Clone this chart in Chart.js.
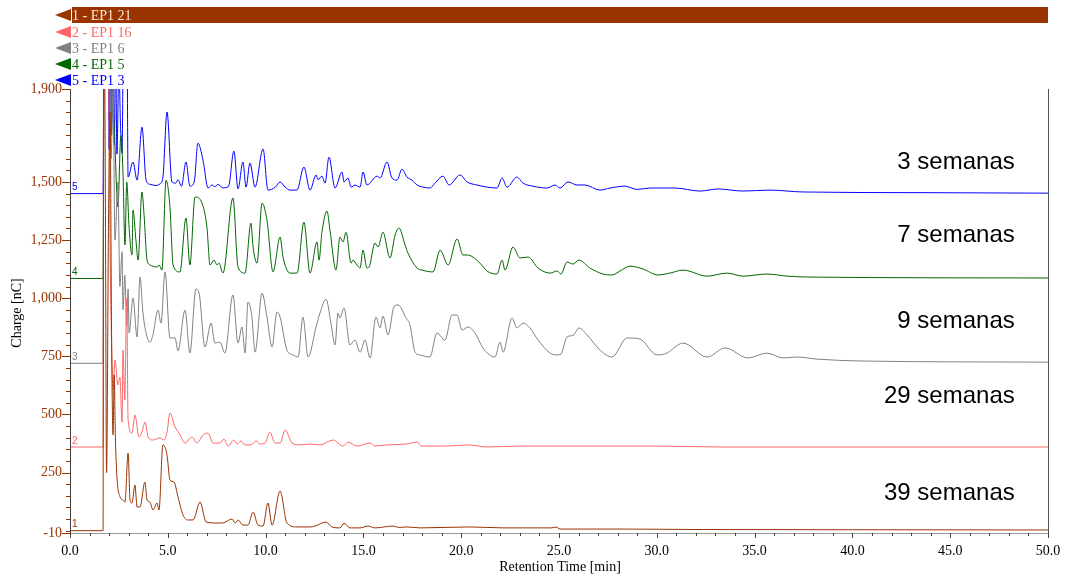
<!DOCTYPE html>
<html>
<head>
<meta charset="utf-8">
<script src="https://cdn.jsdelivr.net/npm/chart.js@4.4.0/dist/chart.umd.min.js"></script>
<style>
  html, body { margin: 0; padding: 0; background: #fff; }
  #wrap { width: 1067px; height: 577px; }
</style>
</head>
<body>
<div id="wrap"><canvas id="chrom"></canvas></div>
<script>
// series names, colours and the age labels written on the right
const seriesNames = ['1 - EP1 21', '2 - EP1 16', '3 - EP1 6', '4 - EP1 5', '5 - EP1 3'];
const seriesColors = ['#993300', '#ff6666', '#808080', '#006600', '#0000ff'];
const ageLabels = ['39 semanas', '29 semanas', '9 semanas', '7 semanas', '3 semanas'];
const ageLabelY = [162, 579, 902, 1272, 1585]; // nC, where each label sits
const ageLabelX = 48.3; // min, right edge of the labels

// axis ticks
const xTickLabels = [0, 5, 10, 15, 20, 25, 30, 35, 40, 45, 50];
const yTickLabels = [-10, 250, 500, 750, 1000, 1250, 1500, 1900];

// traces: [retention time (min), charge (nC)]
const ep1_21 = [[0,0],[1.69,0],[1.72,2400],[1.80,1607],[1.87,250],[1.97,1345],[2.05,1800],[2.12,900],[2.20,412],[2.26,670],[2.32,403],[2.40,231],[2.56,145],[2.71,132],[2.81,123],[2.97,334],[3.07,132],[3.17,119],[3.32,196],[3.43,102],[3.58,102],[3.83,209],[3.94,132],[4.09,123],[4.24,89],[4.45,119],[4.55,89],[4.75,369],[4.96,325],[5.11,218],[5.32,209],[5.52,145],[5.78,67],[6.03,46],[6.29,46],[6.65,123],[6.96,37],[7.52,33],[7.80,33],[8.28,50],[8.45,33],[8.59,46],[8.84,24],[9.10,24],[9.36,80],[9.61,24],[9.87,20],[10.12,119],[10.33,24],[10.74,171],[11.09,33],[11.61,16],[12.27,16],[12.53,20],[13.09,37],[13.39,16],[13.80,12],[14.01,32],[14.31,12],[14.83,12],[15.24,20],[15.59,12],[16.51,20],[16.80,14],[17.23,16],[17.89,12],[20.45,16],[22.14,12],[24.64,12],[24.85,16],[25.05,7],[28.12,7],[32,5],[40,4],[50,3]];

const ep1_16 = [[0,360],[1.69,360],[1.74,2400],[1.95,2200],[2.05,1200],[2.10,915],[2.20,605],[2.30,734],[2.45,627],[2.55,661],[2.66,467],[2.71,777],[2.80,562],[2.90,1000],[2.97,476],[3.17,420],[3.32,498],[3.53,403],[3.68,424],[3.84,467],[3.99,403],[4.24,390],[4.60,399],[4.80,390],[4.96,424],[5.11,506],[5.37,446],[5.57,420],[5.88,377],[6.24,403],[6.49,377],[6.80,412],[7.06,420],[7.31,377],[7.67,377],[7.87,394],[8.08,364],[8.38,390],[8.54,373],[8.74,386],[8.95,369],[9.25,369],[9.51,386],[9.72,373],[9.97,377],[10.22,424],[10.48,377],[10.74,377],[11.00,433],[11.35,377],[11.76,369],[12.27,373],[12.78,369],[13.45,390],[13.96,364],[14.21,381],[14.67,364],[15.34,377],[15.59,364],[16.21,369],[17.23,373],[17.74,381],[17.99,364],[19.27,364],[20.35,369],[21.32,360],[23.01,364],[26.43,364],[29.80,364],[33.23,360],[50,360]];

const ep1_6 = [[0,720],[1.69,720],[1.74,2400],[2.00,2300],[2.10,1600],[2.20,1900],[2.30,1250],[2.45,1500],[2.55,1050],[2.66,1200],[2.71,950],[2.80,1100],[2.90,880],[2.97,1040],[3.02,850],[3.22,1001],[3.43,833],[3.58,1091],[3.73,936],[3.94,833],[4.09,811],[4.24,842],[4.50,949],[4.65,893],[4.86,1113],[5.11,829],[5.37,829],[5.52,773],[5.88,949],[6.13,764],[6.44,1040],[6.60,1022],[6.90,790],[7.21,893],[7.41,807],[7.67,811],[7.92,764],[8.33,1014],[8.59,807],[8.79,876],[8.95,764],[9.10,984],[9.30,919],[9.46,768],[9.82,1022],[10.07,919],[10.33,790],[10.58,941],[10.74,919],[11.09,777],[11.40,756],[11.66,747],[11.91,919],[12.17,747],[12.58,876],[12.78,936],[13.09,996],[13.34,893],[13.55,799],[13.70,936],[13.80,915],[14.01,958],[14.31,799],[14.57,820],[14.83,768],[15.08,820],[15.34,743],[15.64,919],[15.85,872],[16.00,923],[16.26,842],[16.56,962],[16.77,971],[17.18,915],[17.38,885],[17.64,768],[17.89,756],[18.40,747],[18.76,850],[19.17,820],[19.53,928],[19.79,928],[20.04,863],[20.35,876],[20.71,850],[21.11,786],[21.73,747],[21.98,811],[22.14,768],[22.60,915],[22.85,872],[23.16,893],[23.52,872],[23.93,820],[24.54,764],[24.90,756],[25.10,760],[25.41,833],[25.72,840],[26.02,872],[26.43,842],[27.10,777],[27.71,747],[28.48,829],[29.14,824],[30.01,756],[30.52,764],[31.08,799],[31.34,807],[32.57,747],[33.49,786],[34.66,743],[35.63,764],[36.45,743],[37.17,747],[38.19,738],[40.39,730],[50,725]];

const ep1_5 = [[0,1085],[1.69,1085],[1.75,2400],[2.05,2300],[2.15,1852],[2.25,1753],[2.45,1392],[2.60,1700],[2.71,1538],[2.81,1229],[2.90,1500],[3.02,1306],[3.17,1186],[3.22,1379],[3.37,1250],[3.48,1164],[3.68,1457],[3.78,1366],[3.94,1164],[4.09,1143],[4.45,1134],[4.55,1143],[4.70,1121],[4.91,1508],[5.11,1392],[5.27,1143],[5.62,1113],[5.93,1345],[6.13,1143],[6.39,1435],[6.75,1409],[7.00,1306],[7.16,1143],[7.36,1164],[7.52,1143],[7.62,1151],[7.82,1108],[8.33,1431],[8.59,1134],[8.95,1108],[9.25,1323],[9.36,1220],[9.56,1151],[9.82,1409],[10.07,1336],[10.38,1113],[10.74,1263],[10.89,1177],[11.25,1108],[11.61,1108],[11.96,1327],[12.27,1108],[12.63,1242],[12.73,1164],[12.88,1284],[13.14,1375],[13.29,1293],[13.60,1121],[13.80,1263],[13.96,1242],[14.11,1284],[14.37,1151],[14.47,1164],[14.67,1143],[14.83,1130],[14.98,1207],[15.18,1130],[15.29,1134],[15.59,1237],[15.75,1220],[16.00,1284],[16.36,1173],[16.62,1272],[16.82,1302],[17.13,1229],[17.28,1194],[17.74,1130],[18.00,1121],[18.56,1113],[18.92,1207],[19.33,1143],[19.79,1255],[20.09,1186],[20.30,1186],[20.60,1177],[20.96,1151],[21.32,1117],[21.83,1104],[22.09,1164],[22.24,1121],[22.65,1220],[23.01,1173],[23.42,1177],[23.93,1130],[24.54,1108],[24.90,1117],[25.10,1104],[25.41,1156],[25.72,1147],[26.02,1164],[26.58,1130],[27.25,1104],[27.71,1100],[28.12,1117],[28.63,1138],[29.29,1126],[30.06,1100],[30.67,1108],[31.34,1121],[32.57,1095],[33.59,1108],[34.41,1095],[35.63,1104],[36.66,1095],[37.83,1091],[50,1087]];

const ep1_3 = [[0,1450],[1.69,1450],[1.75,2400],[1.95,2300],[2.00,1640],[2.05,2100],[2.12,1700],[2.20,2000],[2.27,1660],[2.33,2100],[2.40,1620],[2.50,2000],[2.58,1750],[2.66,1624],[2.75,2300],[2.90,2300],[2.97,1521],[3.22,1586],[3.43,1508],[3.68,1736],[3.89,1508],[4.09,1490],[4.40,1485],[4.60,1492],[4.75,1520],[4.96,1801],[5.21,1500],[5.40,1495],[5.52,1510],[5.70,1482],[5.93,1586],[6.13,1482],[6.35,1500],[6.54,1667],[6.80,1594],[7.06,1474],[7.26,1487],[7.40,1480],[7.57,1490],[7.80,1475],[8.10,1480],[8.38,1633],[8.59,1470],[8.84,1586],[9.00,1478],[9.20,1581],[9.46,1478],[9.87,1642],[10.12,1465],[10.50,1478],[10.74,1500],[11.00,1478],[11.25,1465],[11.60,1465],[11.96,1564],[12.27,1465],[12.58,1530],[12.68,1510],[12.88,1525],[13.04,1495],[13.24,1607],[13.55,1474],[13.91,1543],[14.01,1500],[14.21,1517],[14.37,1478],[14.57,1487],[14.83,1478],[14.98,1543],[15.18,1487],[15.70,1525],[15.85,1517],[16.21,1586],[16.46,1517],[16.72,1508],[16.97,1555],[17.23,1521],[17.48,1508],[17.74,1487],[18.05,1478],[18.40,1474],[18.66,1495],[19.07,1525],[19.38,1487],[19.94,1530],[20.30,1500],[20.81,1487],[21.32,1478],[21.83,1474],[22.09,1517],[22.34,1478],[22.85,1521],[23.16,1495],[23.67,1482],[24.39,1474],[24.80,1487],[25.05,1474],[25.46,1500],[25.92,1487],[26.33,1487],[27.10,1465],[27.61,1474],[28.37,1482],[29.00,1468],[29.65,1474],[30.93,1474],[32.21,1461],[33.13,1470],[34.41,1461],[35.79,1465],[37.47,1457],[43.81,1454],[50,1452]];

const traces = [ep1_21, ep1_16, ep1_6, ep1_5, ep1_3];

const serif = '"Liberation Serif", "Times New Roman", serif';
const sans = '"Liberation Sans", Arial, sans-serif';

// ticks, legend, titles and labels drawn on top of the plot
const decorations = {
  id: 'decorations',
  afterDraw(chart) {
    const { ctx, chartArea: a, scales: { x, y } } = chart;
    ctx.save();

    // axis lines
    ctx.lineWidth = 1;
    ctx.strokeStyle = '#404040';
    ctx.beginPath();
    ctx.moveTo(a.left + 0.5, a.top);
    ctx.lineTo(a.left + 0.5, a.bottom + 0.5);
    ctx.stroke();
    ctx.strokeStyle = '#999999';
    ctx.beginPath();
    ctx.moveTo(a.left, a.bottom + 0.5);
    ctx.lineTo(a.right, a.bottom + 0.5);
    ctx.stroke();
    ctx.strokeStyle = '#555555';
    ctx.beginPath();
    ctx.moveTo(a.right + 0.5, a.top);
    ctx.lineTo(a.right + 0.5, a.bottom + 0.5);
    ctx.stroke();

    // y ticks: major at labels, minor every 50
    ctx.strokeStyle = '#993300';
    ctx.beginPath();
    for (let v = 0; v <= 1900; v += 50) {
      const py = Math.round(y.getPixelForValue(v)) + 0.5;
      const len = yTickLabels.includes(v) ? 8 : 4;
      ctx.moveTo(a.left - len, py);
      ctx.lineTo(a.left, py);
    }
    const pMin = Math.round(y.getPixelForValue(-10)) + 0.5;
    ctx.moveTo(a.left - 8, pMin);
    ctx.lineTo(a.left, pMin);
    ctx.stroke();

    // x ticks: major every 5, minor every 1
    ctx.strokeStyle = '#404040';
    ctx.beginPath();
    for (let t = 0; t <= 50; t++) {
      const px = Math.round(x.getPixelForValue(t)) + 0.5;
      const len = t % 5 === 0 ? 5 : 3;
      ctx.moveTo(px, a.bottom);
      ctx.lineTo(px, a.bottom + len);
    }
    ctx.stroke();

    // axis titles
    ctx.fillStyle = '#000';
    ctx.font = '14px ' + serif;
    ctx.textAlign = 'center';
    ctx.textBaseline = 'middle';
    ctx.fillText('Retention Time [min]', (a.left + a.right) / 2 + 1, 567);
    ctx.save();
    ctx.translate(17, 313);
    ctx.rotate(-Math.PI / 2);
    ctx.fillText('Charge [nC]', 0, 0);
    ctx.restore();

    // legend at the top
    const legendY = [15, 32, 48, 64, 80];
    ctx.fillStyle = seriesColors[0];
    ctx.fillRect(72, 7, a.right - 72, 16);
    seriesNames.forEach((name, i) => {
      const cy = legendY[i];
      ctx.fillStyle = seriesColors[i];
      ctx.beginPath();
      ctx.moveTo(55, cy);
      ctx.lineTo(71, cy - 6);
      ctx.lineTo(71, cy + 6);
      ctx.closePath();
      ctx.fill();
      ctx.fillStyle = i === 0 ? '#fbe8d6' : seriesColors[i];
      ctx.font = '14px ' + serif;
      ctx.textAlign = 'left';
      ctx.textBaseline = 'middle';
      ctx.fillText(name, 72, cy + 1);
    });

    // trace numbers at the start of each baseline
    ctx.font = '10px ' + sans;
    ctx.textBaseline = 'bottom';
    traces.forEach((tr, i) => {
      ctx.fillStyle = seriesColors[i];
      ctx.fillText(String(i + 1), a.left + 2, y.getPixelForValue(tr[0][1]) - 1);
    });

    // ages on the right
    ctx.fillStyle = '#000';
    ctx.font = '24px ' + sans;
    ctx.textAlign = 'right';
    ctx.textBaseline = 'middle';
    ageLabels.forEach((lab, i) => {
      ctx.fillText(lab, x.getPixelForValue(ageLabelX), y.getPixelForValue(ageLabelY[i]));
    });

    ctx.restore();
  }
};

new Chart(document.getElementById('chrom'), {
  type: 'line',
  data: {
    datasets: traces.map((tr, i) => ({
      label: seriesNames[i],
      data: tr.map(p => ({ x: p[0], y: p[1] })),
      borderColor: seriesColors[i],
      borderWidth: 1,
      pointRadius: 0,
      cubicInterpolationMode: 'monotone',
      fill: false
    }))
  },
  options: {
    responsive: true,
    maintainAspectRatio: false,
    animation: false,
    layout: { padding: { top: 89, right: 19, left: 0, bottom: 0 } },
    plugins: { legend: { display: false }, tooltip: { enabled: false } },
    scales: {
      x: {
        type: 'linear',
        min: 0,
        max: 50,
        grid: { display: false, drawTicks: false },
        border: { display: false },
        afterBuildTicks: s => { s.ticks = xTickLabels.map(v => ({ value: v })); },
        afterFit: s => { s.height = 44; s.paddingLeft = 0; s.paddingRight = 0; },
        ticks: {
          autoSkip: false,
          maxRotation: 0,
          padding: 10,
          color: '#000',
          font: { family: serif, size: 14 },
          callback: v => Number(v).toFixed(1)
        }
      },
      y: {
        type: 'linear',
        min: -10,
        max: 1900,
        grid: { display: false, drawTicks: false },
        border: { display: false },
        afterBuildTicks: s => { s.ticks = yTickLabels.map(v => ({ value: v })); },
        afterFit: s => { s.width = 70; s.paddingTop = 0; s.paddingBottom = 0; },
        ticks: {
          autoSkip: false,
          padding: 8,
          color: '#993300',
          font: { family: serif, size: 14 },
          callback: v => Number(v).toLocaleString('en-US')
        }
      }
    }
  },
  plugins: [decorations]
});
</script>
</body>
</html>
